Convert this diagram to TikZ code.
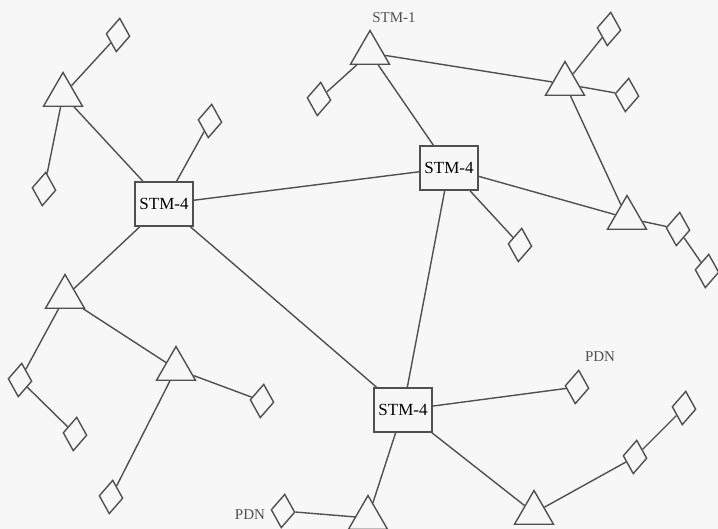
\documentclass[tikz,border=0pt]{standalone}
\usepackage{fontspec}
\setmainfont{Liberation Serif}
\usepackage{tikz}
\usetikzlibrary{shapes.geometric}

\definecolor{linegray}{RGB}{80,80,80}
\definecolor{paper}{RGB}{247,247,247}

\begin{document}
\begin{tikzpicture}[x=1pt, y=-1pt,
    link/.style={draw=linegray, line width=1.4pt},
    stmbox/.style={draw=linegray, line width=1.7pt, fill=paper, minimum width=58pt, minimum height=44pt, inner sep=0pt, font=\fontsize{17}{17}\selectfont},
    tri/.style={draw=linegray, line width=1.4pt, regular polygon, regular polygon sides=3, minimum size=45pt, inner sep=0pt},
    dia/.style={draw=linegray, line width=1.4pt, diamond, minimum width=24pt, minimum height=34pt, inner sep=0pt, rotate=-6},
    tag/.style={text=linegray, font=\fontsize{15}{15}\selectfont}]
    \fill[paper] (0,0) rectangle (718,529);
    \useasboundingbox (0,0) rectangle (718,529);

    % STM-4 nodes
    \node[stmbox] (stmW) at (164,204) {STM-4};
    \node[stmbox] (stmN) at (449,168) {STM-4};
    \node[stmbox] (stmS) at (403,410) {STM-4};

    % triangles
    \node[tri] (tA) at (63,95) {};
    \node[tri] (tB) at (370,53) {};
    \node[tri] (tC) at (565,84) {};
    \node[tri] (tD) at (627,218) {};
    \node[tri] (tE) at (65,297) {};
    \node[tri] (tF) at (176,369) {};
    \node[tri] (tG) at (368,518) {};
    \node[tri] (tH) at (534,513) {};

    % diamonds
    \node[dia] (dA) at (118,35) {};
    \node[dia] (dB) at (44,189) {};
    \node[dia] (dC) at (210,121) {};
    \node[dia] (dD) at (319,99) {};
    \node[dia] (dE) at (609,29) {};
    \node[dia] (dF) at (627,95) {};
    \node[dia] (dG) at (520,245) {};
    \node[dia] (dH) at (678,229) {};
    \node[dia] (dI) at (707,271) {};
    \node[dia] (dJ) at (20,380) {};
    \node[dia] (dK) at (75,434) {};
    \node[dia] (dL) at (262,401) {};
    \node[dia] (dM) at (111,497) {};
    \node[dia] (dN) at (283,511) {};
    \node[dia] (dO) at (577,387) {};
    \node[dia] (dP) at (684,408) {};
    \node[dia] (dQ) at (635,457) {};

    % labels
    \node[tag] (lblStm) at (394,18) {STM-1};
    \node[tag] (lblPdnA) at (600,357) {PDN};
    \node[tag] (lblPdnB) at (250,515) {PDN};

    % links
    \draw[link] (tA) -- (dA);
    \draw[link] (tA) -- (dB);
    \draw[link] (tA) -- (stmW);
    \draw[link] (stmW) -- (dC);
    \draw[link] (stmW) -- (stmN);
    \draw[link] (stmW) -- (tE);
    \draw[link] (stmW) -- (stmS);
    \draw[link] (tB) -- (dD);
    \draw[link] (tB) -- (tC);
    \draw[link] (tB) -- (stmN);
    \draw[link] (tC) -- (dE);
    \draw[link] (tC) -- (dF);
    \draw[link] (tC) -- (tD);
    \draw[link] (stmN) -- (tD);
    \draw[link] (stmN) -- (dG);
    \draw[link] (stmN) -- (stmS);
    \draw[link] (tD) -- (dH);
    \draw[link] (dH) -- (dI);
    \draw[link] (tE) -- (dJ);
    \draw[link] (dJ) -- (dK);
    \draw[link] (tE) -- (tF);
    \draw[link] (tF) -- (dL);
    \draw[link] (tF) -- (dM);
    \draw[link] (stmS) -- (dO);
    \draw[link] (stmS) -- (tG);
    \draw[link] (stmS) -- (tH);
    \draw[link] (tG) -- (dN);
    \draw[link] (tH) -- (dQ);
    \draw[link] (dQ) -- (dP);
\end{tikzpicture}
\end{document}
